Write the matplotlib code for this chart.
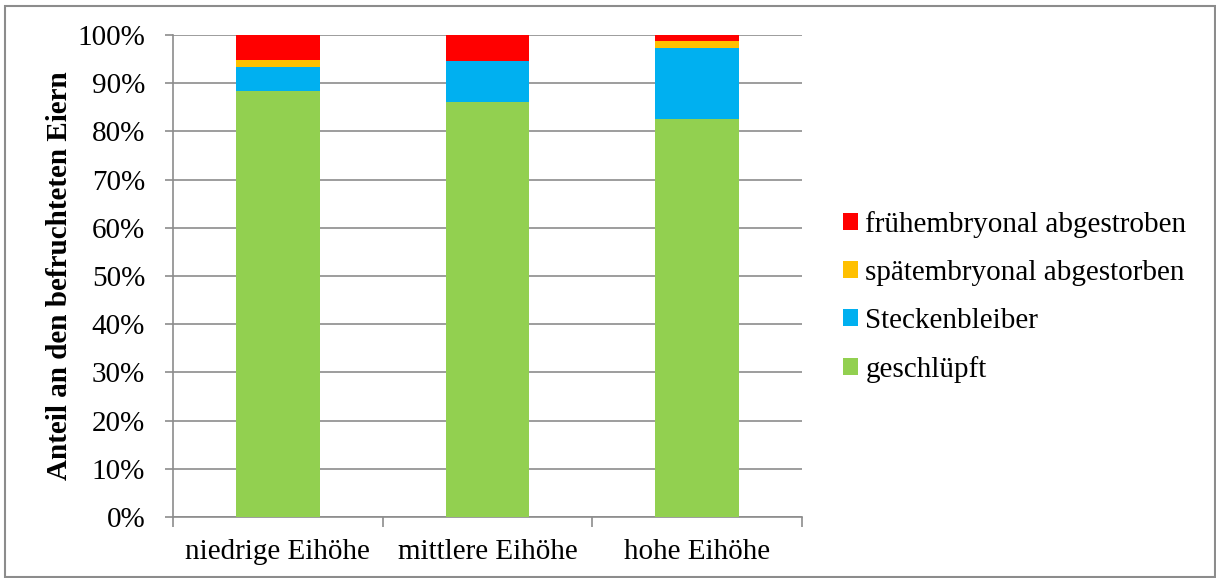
import matplotlib
matplotlib.use("Agg")
import matplotlib.pyplot as plt
from matplotlib.patches import Rectangle
from matplotlib.ticker import PercentFormatter

plt.rcParams['font.family'] = ['Liberation Serif', 'DejaVu Serif']

categories = ["niedrige Eihöhe", "mittlere Eihöhe", "hohe Eihöhe"]
geschluepft = [88.3, 86.0, 82.5]
steckenbleiber = [5.1, 8.6, 14.9]
spaetembryonal = [1.4, 0.0, 1.3]
fruehembryonal = [5.2, 5.4, 1.3]

series = [
    ("geschlüpft", geschluepft, "#92D050"),
    ("Steckenbleiber", steckenbleiber, "#00B0F0"),
    ("spätembryonal abgestorben", spaetembryonal, "#FFC000"),
    ("frühembryonal abgestroben", fruehembryonal, "#FF0000"),
]

FS = 21
W, H = 1216, 578
fig = plt.figure(figsize=(W / 100, H / 100), dpi=100)

# chart frame
fig.add_artist(Rectangle((5 / W, 1 / H), 1210 / W, (H - 7) / H, transform=fig.transFigure,
                         fill=False, edgecolor="#8c8c8c", linewidth=1.5))

ax = fig.add_axes([173 / W, 1 - 517 / H, (802 - 173) / W, (517 - 35) / H])
x = list(range(len(categories)))
bottom = [0.0] * len(categories)
handles = []
for name, vals, color in series:
    b = ax.bar(x, vals, bottom=bottom, width=0.4, color=color, label=name, zorder=3)
    handles.append(b)
    bottom = [bt + v for bt, v in zip(bottom, vals)]

ax.set_xlim(-0.5, len(categories) - 0.5)
ax.set_ylim(0, 100)
ax.set_yticks(range(0, 101, 10))
ax.yaxis.set_major_formatter(PercentFormatter(decimals=0))
ax.grid(axis="y", color="#8c8c8c", linewidth=1.2, zorder=0)
ax.set_xticks(x)
ax.set_xticklabels(categories, fontsize=FS)
ax.set_xticks([-0.5, 0.5, 1.5, 2.5], minor=True)
ax.tick_params(axis="x", which="major", length=0, pad=16)
ax.tick_params(axis="x", which="minor", length=7, color="#8c8c8c", width=1.2)
ax.tick_params(axis="y", length=6, color="#8c8c8c", width=1.2, labelsize=FS, pad=14)
for side in ("top", "right"):
    ax.spines[side].set_visible(False)
for side in ("left", "bottom"):
    ax.spines[side].set_color("#8c8c8c")
    ax.spines[side].set_linewidth(1.2)

ax.set_ylabel("Anteil an den befruchteten Eiern", fontsize=FS, fontweight="bold", labelpad=3)

leg = fig.legend(handles[::-1], [s[0] for s in series][::-1], loc="center left",
                 bbox_to_anchor=(843 / W, 1 - 297 / H), frameon=False, fontsize=FS,
                 borderpad=0, borderaxespad=0,
                 handlelength=0.52, handleheight=0.52, handletextpad=0.25, labelspacing=0.76)

fig.savefig("out.png", dpi=100)
